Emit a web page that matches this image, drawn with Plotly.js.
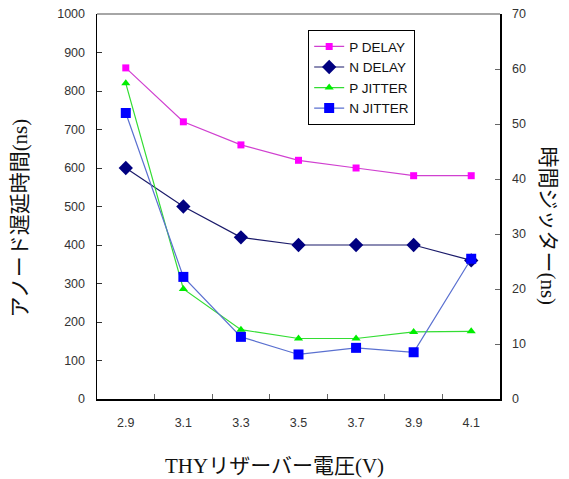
<!DOCTYPE html>
<html>
<head>
<meta charset="utf-8">
<script src="https://cdn.plot.ly/plotly-3.0.1.min.js"></script>
<style>html,body{margin:0;padding:0;background:#fff;}#chart{width:569px;height:479px;}</style>
</head>
<body>
<div id="chart"></div>
<script>
const categories = ["2.9", "3.1", "3.3", "3.5", "3.7", "3.9", "4.1"];
const pDelay = [860, 720, 660, 620, 600, 580, 580];
const nDelay = [600, 500, 420, 400, 400, 400, 360];
const pJitter = [57.4, 20, 12.6, 11, 11, 12.2, 12.3];
const nJitter = [52, 22.2, 11.3, 8.1, 9.3, 8.5, 25.5];
const leftTicks = [0, 100, 200, 300, 400, 500, 600, 700, 800, 900, 1000];
const rightTicks = [0, 10, 20, 30, 40, 50, 60, 70];

const titleFont = {family: "Liberation Serif, Noto Sans CJK JP, serif", size: 21, color: "#111"};
const tickFont = {family: "Liberation Sans, Arial, sans-serif", size: 12.5, color: "#333"};

const traces = [
  {x: categories, y: pDelay, name: "P DELAY", type: "scatter", mode: "lines+markers",
   line: {color: "#d040d0", width: 1.2}, marker: {symbol: "square", size: 7, color: "#ff00ff"}, yaxis: "y"},
  {x: categories, y: nDelay, name: "N DELAY", type: "scatter", mode: "lines+markers",
   line: {color: "#1a1a6a", width: 1.2}, marker: {symbol: "diamond", size: 11, color: "#000080"}, yaxis: "y"},
  {x: categories, y: pJitter, name: "P JITTER", type: "scatter", mode: "lines+markers",
   line: {color: "#33dd33", width: 1.2}, marker: {symbol: "triangle-up", size: 8, color: "#00ee00"}, yaxis: "y2"},
  {x: categories, y: nJitter, name: "N JITTER", type: "scatter", mode: "lines+markers",
   line: {color: "#5a70d0", width: 1.2}, marker: {symbol: "square", size: 10, color: "#0000ff"}, yaxis: "y2"}
];

const layout = {
  width: 569, height: 479,
  margin: {l: 97, r: 69, t: 14, b: 80, pad: 0},
  paper_bgcolor: "#fff", plot_bgcolor: "#fff",
  showlegend: true,
  legend: {x: 0.524, y: 0.958, xanchor: "left", yanchor: "top", bordercolor: "#000", borderwidth: 1,
           bgcolor: "#fff", font: {family: "Liberation Sans, Arial, sans-serif", size: 13.5, color: "#111"},
           tracegroupgap: 0, itemwidth: 30},
  xaxis: {type: "category", tickvals: categories, ticktext: categories, tickfont: tickFont,
          showline: true, linecolor: "#000", linewidth: 1.5, mirror: false,
          ticks: "inside", ticklen: 5, tickcolor: "#666", tickson: "boundaries",
          showgrid: false, zeroline: false, range: [-0.5, 6.5], ticklabelstandoff: 11},
  yaxis: {range: [0, 1000], tickvals: leftTicks, tickfont: tickFont, showline: true, linecolor: "#000", linewidth: 1.5,
          ticks: "inside", ticklen: 5, tickcolor: "#333", showgrid: false, zeroline: false, ticklabelstandoff: 8},
  yaxis2: {range: [0, 70], tickvals: rightTicks, tickfont: tickFont, overlaying: "y", side: "right",
           showline: true, linecolor: "#000", linewidth: 1.5, ticks: "inside", ticklen: 5, tickcolor: "#666",
           showgrid: false, zeroline: false, ticklabelstandoff: 8},
  shapes: [{type: "line", xref: "paper", yref: "paper", x0: 0, x1: 1, y0: 1, y1: 1, line: {color: "#888", width: 1.5}}],
  annotations: [
    {text: "アノード遅延時間(ns)", xref: "paper", yref: "paper", x: -0.19, y: 0.47, showarrow: false,
     textangle: -90, font: titleFont, xanchor: "center", yanchor: "middle"},
    {text: "時間ジッター(ns)", xref: "paper", yref: "paper", x: 1.12, y: 0.45, showarrow: false,
     textangle: 90, font: titleFont, xanchor: "center", yanchor: "middle"},
    {text: "THYリザーバー電圧(V)", xref: "paper", yref: "paper", x: 0.44, y: -0.175, showarrow: false,
     font: titleFont, xanchor: "center", yanchor: "middle"}
  ]
};

Plotly.newPlot("chart", traces, layout, {displayModeBar: false, staticPlot: true});
</script>
</body>
</html>
